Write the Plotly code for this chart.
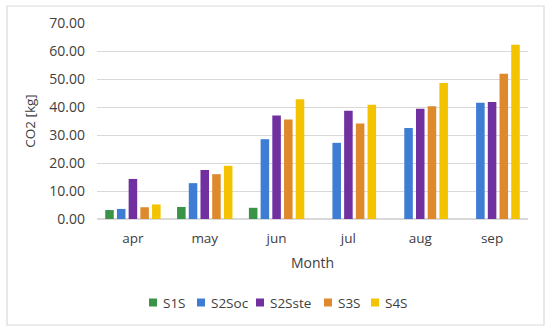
import plotly.graph_objects as go

months = ["apr", "may", "jun", "jul", "aug", "sep"]
series_names = ["S1S", "S2Soc", "S2Sste", "S3S", "S4S"]
s1s = [3.2, 4.3, 4.0, None, None, None]
s2soc = [3.6, 12.8, 28.5, 27.2, 32.5, 41.5]
s2sste = [14.3, 17.5, 37.0, 38.7, 39.4, 41.8]
s3s = [4.2, 16.0, 35.5, 34.1, 40.3, 51.9]
s4s = [5.2, 19.0, 42.8, 40.8, 48.6, 62.2]
values = [s1s, s2soc, s2sste, s3s, s4s]
colors = ["#3a9447", "#3f7dd4", "#7030a0", "#de8a2c", "#f4c300"]

L, R, T, B = 97, 22, 23, 114
W, H = 550, 333
pw, ph = W - L - R, H - T - B


def px_x(p):
    return (p - L) / pw


def px_y(p):
    return (H - B - p) / ph


# legend entry text start positions (pixels) and vertical centre
legend_text_px = [161, 209, 268, 336, 383]
legend_y_px = 302.5

fig = go.Figure()
shapes = [dict(type="rect", xref="paper", yref="paper",
               x0=px_x(7), x1=px_x(544), y0=px_y(325), y1=px_y(6),
               line=dict(color="#d9d9d9", width=1.2))]
annotations = []
for name, vals, col, tx in zip(series_names, values, colors, legend_text_px):
    fig.add_trace(go.Bar(x=months, y=vals, name=name, marker_color=col,
                         marker_line_width=0))
    shapes.append(dict(type="rect", xref="paper", yref="paper",
                       x0=px_x(tx - 12), x1=px_x(tx - 4),
                       y0=px_y(legend_y_px + 4), y1=px_y(legend_y_px - 4),
                       fillcolor=col, line=dict(width=0)))
    annotations.append(dict(text=name, xref="paper", yref="paper",
                            x=px_x(tx), y=px_y(legend_y_px),
                            xanchor="left", yanchor="middle", showarrow=False,
                            font=dict(size=13.5, color="#404040")))

font = "Open Sans"
fig.update_layout(
    width=W, height=H,
    margin=dict(l=L, r=R, t=T, b=B, autoexpand=False),
    paper_bgcolor="white", plot_bgcolor="white",
    barmode="group", bargap=0.185, bargroupgap=0.27,
    font=dict(family=font, size=13, color="#404040"),
    xaxis=dict(showline=False, ticks="", tickfont=dict(size=13.5),
               ticklabelstandoff=9, automargin=False,
               title=dict(text="Month", font=dict(size=14), standoff=12)),
    yaxis=dict(range=[0, 70], dtick=10, tickformat=".2f",
               gridcolor="#d9d9d9", gridwidth=1, zeroline=True,
               zerolinecolor="#d9d9d9", ticks="", tickfont=dict(size=14),
               ticklabelstandoff=11, automargin=False,
               title=dict(text="CO2 [kg]", font=dict(size=13.5), standoff=10)),
    showlegend=False,
    shapes=shapes,
    annotations=annotations,
)

fig.write_html("out.html", config={"displayModeBar": False},
               post_script="document.body.style.margin='0';")
